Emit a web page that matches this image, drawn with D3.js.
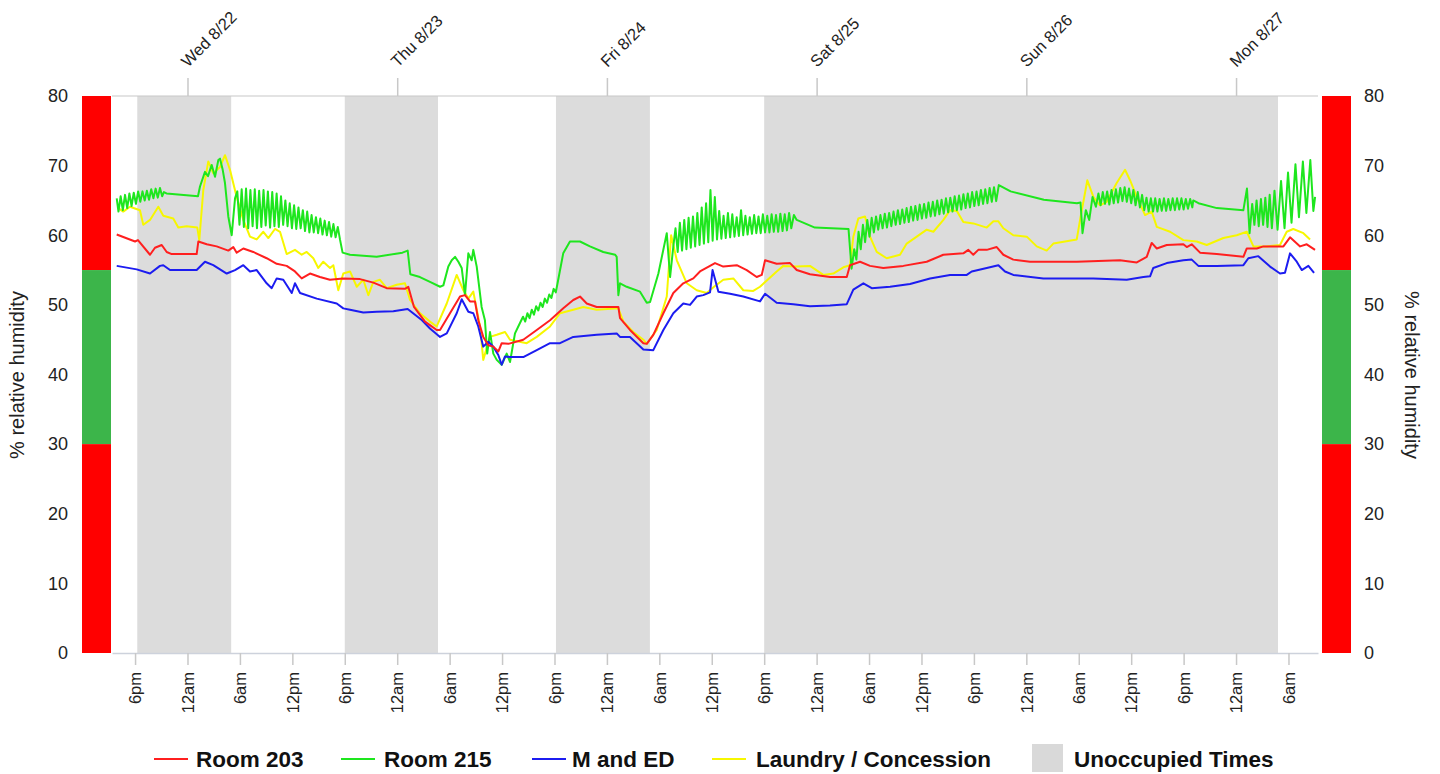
<!DOCTYPE html>
<html>
<head>
<meta charset="utf-8">
<script src="https://cdn.jsdelivr.net/npm/d3@7"></script>
<style>
  html, body { margin: 0; padding: 0; background: #fff; }
  svg { display: block; font-family: "Liberation Sans", Arial, sans-serif; }
</style>
</head>
<body>
<svg id="chart" width="1440" height="774"></svg>
<script>
// ---- DATA (hours relative to Wed 8/22/2018 00:00, % relative humidity) ----
const seriesNames = ["Room 203", "Room 215", "M and ED", "Laundry / Concession"];
const seriesColors = ["#ff1f1f", "#1ee61e", "#1c1cf0", "#f7f700"];

const room203 = [[-8.1,60.1],[-6.0,59.1],[-5.67,59.3],[-4.29,57.2],[-3.72,58.2],[-2.95,58.6],[-2.38,57.6],[-1.81,57.3],[1.05,57.3],[1.24,59.1],[2.2,58.7],[3.34,58.4],[4.67,57.8],[5.24,58.3],[5.63,57.5],[6.39,58.1],[7.53,57.6],[9.06,56.7],[10.21,55.9],[11.35,55.6],[12.3,54.8],[13.07,53.8],[14.02,54.5],[15.16,54.0],[16.3,53.6],[17.8,53.8],[19.74,53.7],[21.27,53.2],[22.8,52.4],[24.89,52.3],[25.27,52.6],[25.92,49.7],[27.18,47.6],[28.52,46.4],[28.9,46.4],[30.04,48.8],[31.19,51.2],[31.76,51.4],[32.33,50.5],[32.9,50.5],[33.28,47.8],[33.85,45.4],[34.43,44.2],[35.0,44.0],[35.57,43.3],[35.96,44.5],[36.72,44.4],[38.43,45.0],[39.97,46.4],[41.49,47.8],[43.01,49.5],[44.15,50.7],[44.92,51.2],[45.69,50.2],[46.83,49.7],[49.31,49.7],[49.5,48.1],[50.64,46.4],[52.17,44.5],[52.56,44.4],[53.31,45.7],[54.46,48.8],[55.6,51.7],[56.74,53.1],[57.89,53.8],[58.65,54.8],[59.8,55.6],[60.37,56.0],[61.32,55.5],[62.86,55.7],[64.0,55.0],[65.14,54.0],[65.72,54.3],[66.1,56.4],[67.43,55.9],[68.96,56.0],[69.72,55.0],[71.24,54.4],[73.53,54.0],[75.45,54.0],[75.82,55.7],[76.97,56.2],[78.11,55.6],[79.63,55.3],[81.92,55.6],[84.6,56.2],[86.5,57.2],[88.79,57.4],[89.36,57.9],[89.93,57.2],[90.5,57.9],[91.47,57.9],[92.61,58.3],[93.37,57.2],[94.51,56.5],[96.42,56.2],[101.77,56.2],[106.72,56.4],[108.64,56.1],[109.78,56.9],[110.35,58.9],[110.93,58.1],[112.07,58.6],[113.97,58.7],[114.36,58.3],[114.93,58.7],[115.88,57.5],[117.79,57.3],[120.84,56.9],[121.23,58.1],[122.37,58.1],[123.13,58.4],[125.42,58.4],[126.18,59.7],[127.33,58.4],[128.09,58.7],[129.04,57.9]];

const room215 = [[-8.1,65.3],[-7.9,63.4],[-7.65,65.6],[-7.4,63.6],[-7.15,65.8],[-6.9,63.9],[-6.65,66.0],[-6.4,64.2],[-6.15,66.1],[-5.9,64.5],[-5.65,66.3],[-5.4,64.8],[-5.15,66.3],[-4.9,65.0],[-4.65,66.4],[-4.4,65.1],[-4.15,66.6],[-3.9,65.3],[-3.65,66.7],[-3.4,65.4],[-3.15,66.8],[-2.9,65.6],[-2.7,66.2],[-2.4,66.0],[1.2,65.6],[1.43,67.0],[2.0,69.1],[2.35,68.5],[2.77,70.1],[3.15,68.4],[3.53,70.8],[3.72,71.0],[4.03,69.4],[4.29,67.5],[4.67,62.7],[5.06,60.0],[5.44,65.3],[5.7,66.3],[5.95,61.5],[6.2,66.6],[6.45,61.2],[6.7,66.7],[6.95,61.0],[7.2,66.5],[7.45,61.3],[7.7,66.6],[7.95,61.0],[8.2,66.4],[8.45,61.2],[8.7,66.5],[8.95,61.4],[9.2,66.3],[9.45,61.1],[9.7,66.2],[9.95,61.3],[10.2,66.0],[10.45,61.2],[10.7,65.6],[10.95,61.5],[11.2,65.0],[11.45,61.3],[11.7,64.6],[11.95,61.0],[12.2,64.3],[12.45,60.9],[12.7,64.0],[12.95,61.0],[13.2,63.6],[13.45,60.6],[13.7,63.4],[13.95,60.4],[14.2,62.9],[14.45,60.4],[14.7,62.6],[14.95,60.3],[15.2,62.4],[15.45,60.1],[15.7,62.1],[15.95,60.0],[16.2,61.9],[16.45,59.8],[16.7,61.6],[16.95,59.7],[17.2,61.2],[17.45,59.4],[17.75,57.5],[18.6,57.2],[21.65,56.9],[24.6,57.5],[25.2,57.8],[25.5,54.4],[26.6,54.0],[27.75,53.3],[28.9,52.6],[29.28,52.8],[29.85,55.5],[30.24,56.4],[30.62,56.9],[31.0,56.2],[31.38,55.3],[31.76,51.4],[32.14,57.4],[32.52,56.4],[32.71,57.9],[33.1,55.5],[33.66,49.7],[34.04,47.8],[34.3,43.0],[34.62,46.1],[35.0,43.0],[35.39,42.1],[35.96,41.4],[36.53,43.0],[36.91,41.8],[37.48,45.9],[38.05,47.4],[38.4,48.3],[38.65,47.6],[38.9,48.8],[39.15,48.1],[39.4,49.3],[39.65,48.6],[39.9,49.8],[40.15,49.2],[40.4,50.3],[40.65,49.7],[40.9,50.9],[41.15,50.3],[41.4,51.5],[41.65,51.0],[41.9,52.3],[42.15,51.8],[42.35,53.1],[43.0,57.4],[43.77,59.1],[44.92,59.1],[46.06,58.4],[47.58,57.6],[48.95,57.2],[49.12,56.9],[49.31,51.4],[49.5,53.1],[50.26,52.6],[51.79,51.9],[52.56,50.3],[52.94,50.4],[53.89,54.5],[54.85,60.3],[55.23,54.0],[55.6,58.4],[55.85,61.0],[56.1,57.6],[56.35,61.8],[56.6,57.8],[56.85,62.2],[57.1,58.0],[57.35,62.5],[57.6,58.2],[57.85,62.7],[58.1,58.4],[58.35,63.2],[58.6,58.6],[58.85,64.0],[59.1,58.8],[59.35,64.6],[59.6,59.0],[59.85,66.5],[60.1,59.2],[60.35,65.5],[60.6,59.4],[60.85,63.5],[61.1,59.5],[61.35,62.8],[61.6,59.6],[61.85,63.2],[62.1,59.7],[62.35,63.0],[62.6,59.8],[62.85,62.6],[63.1,59.9],[63.35,63.6],[63.6,60.0],[63.85,62.8],[64.1,60.1],[64.35,62.6],[64.6,60.2],[64.85,62.9],[65.1,60.3],[65.35,62.7],[65.6,60.3],[65.85,63.0],[66.1,60.4],[66.35,62.8],[66.6,60.4],[66.85,63.0],[67.1,60.5],[67.35,62.9],[67.6,60.5],[67.85,63.1],[68.1,60.6],[68.35,63.0],[68.6,60.7],[68.85,63.2],[69.1,61.0],[69.4,62.9],[69.72,62.2],[71.8,61.1],[75.65,60.9],[76.0,55.2],[76.3,58.0],[76.55,56.5],[76.8,60.5],[77.05,58.0],[77.3,61.5],[77.55,59.0],[77.8,62.2],[78.05,59.8],[78.3,62.5],[78.55,60.4],[78.8,62.7],[79.05,60.8],[79.3,62.9],[79.55,61.0],[79.8,63.1],[80.05,61.1],[80.3,63.2],[80.55,61.3],[80.8,63.4],[81.05,61.5],[81.3,63.6],[81.55,61.6],[81.8,63.7],[82.05,61.8],[82.3,63.9],[82.55,61.9],[82.8,64.1],[83.05,62.1],[83.3,64.2],[83.55,62.2],[83.8,64.4],[84.05,62.4],[84.3,64.5],[84.55,62.5],[84.8,64.7],[85.05,62.7],[85.3,64.8],[85.55,62.8],[85.8,65.0],[86.05,63.0],[86.3,65.1],[86.55,63.1],[86.8,65.3],[87.05,63.3],[87.3,65.4],[87.55,63.4],[87.8,65.6],[88.05,63.6],[88.3,65.7],[88.55,63.7],[88.8,65.9],[89.05,63.9],[89.3,66.0],[89.55,64.0],[89.8,66.2],[90.05,64.2],[90.3,66.3],[90.55,64.3],[90.8,66.5],[91.05,64.5],[91.3,66.6],[91.55,64.6],[91.8,66.8],[92.05,64.8],[92.3,66.9],[92.55,64.9],[92.85,67.2],[94.2,66.3],[98.0,65.1],[101.8,64.6],[102.2,64.7],[102.43,60.3],[102.81,63.6],[103.2,62.2],[103.58,65.5],[103.96,64.1],[104.25,66.0],[104.5,64.3],[104.75,66.2],[105.0,64.5],[105.25,66.3],[105.5,64.4],[105.75,66.5],[106.0,64.6],[106.25,66.6],[106.5,64.7],[106.75,66.8],[107.0,64.9],[107.25,66.9],[107.5,64.8],[107.75,66.7],[108.0,64.6],[108.25,66.5],[108.5,64.3],[108.75,66.2],[109.0,64.0],[109.25,65.8],[109.5,63.6],[109.75,65.4],[110.0,63.4],[110.25,65.3],[110.5,63.4],[110.75,65.3],[111.0,63.4],[111.25,65.2],[111.5,63.5],[111.75,65.3],[112.0,63.5],[112.25,65.2],[112.5,63.6],[112.75,65.3],[113.0,63.6],[113.25,65.3],[113.5,63.7],[113.75,65.3],[114.0,63.7],[114.25,65.2],[114.5,63.8],[114.75,65.2],[115.0,64.0],[115.1,65.0],[115.7,64.6],[117.8,63.9],[120.84,63.6],[121.25,66.7],[121.55,60.3],[121.85,64.5],[122.1,61.5],[122.35,65.0],[122.6,61.3],[122.85,65.2],[123.1,61.5],[123.35,65.4],[123.6,61.2],[123.85,65.8],[124.1,61.0],[124.4,66.4],[124.75,60.8],[125.15,67.8],[125.55,61.0],[125.95,69.0],[126.35,61.8],[126.8,70.2],[127.2,62.6],[127.65,70.6],[128.05,63.2],[128.5,70.8],[128.85,63.5],[129.05,65.5]];

const mAndED = [[-8.1,55.6],[-5.81,55.1],[-4.29,54.5],[-3.15,55.6],[-2.77,55.7],[-2.0,55.0],[1.05,55.0],[2.0,56.2],[2.95,55.7],[4.49,54.5],[5.44,55.0],[6.39,55.7],[7.15,54.8],[7.92,55.0],[9.06,53.1],[9.64,52.4],[10.21,53.8],[10.96,53.6],[11.93,51.7],[12.3,53.1],[12.88,51.7],[14.79,50.9],[17.08,50.2],[17.83,49.5],[18.6,49.3],[20.12,48.9],[21.65,49.0],[23.55,49.1],[25.2,49.4],[26.84,47.8],[27.75,46.6],[28.9,45.4],[29.67,45.9],[30.81,48.8],[31.38,50.8],[32.14,49.0],[32.71,48.8],[33.28,46.9],[33.85,44.0],[34.43,44.7],[35.0,44.0],[35.57,42.8],[35.96,41.4],[36.34,42.6],[36.91,42.5],[38.43,42.5],[39.97,43.5],[41.49,44.5],[42.63,44.5],[44.15,45.4],[46.83,45.7],[49.12,45.9],[49.5,45.4],[50.64,45.4],[52.17,43.6],[53.31,43.5],[54.46,46.4],[55.6,48.8],[56.74,50.2],[57.51,50.0],[58.28,51.2],[59.03,51.4],[59.8,51.8],[60.09,55.0],[60.76,51.9],[62.09,51.6],[63.61,51.2],[65.52,50.5],[66.1,51.6],[67.43,50.3],[69.33,50.1],[71.24,49.8],[73.53,49.9],[75.45,50.1],[76.2,52.2],[77.35,53.1],[78.31,52.4],[80.4,52.6],[82.69,53.0],[84.98,53.8],[87.27,54.3],[89.18,54.3],[89.75,54.8],[91.47,55.3],[92.8,55.7],[93.56,54.8],[94.51,54.3],[97.95,53.8],[103.67,53.8],[107.49,53.6],[109.39,54.0],[110.16,54.1],[110.53,55.3],[112.07,56.0],[113.97,56.4],[114.93,56.5],[115.69,55.6],[117.79,55.6],[120.84,55.7],[121.41,56.7],[122.55,57.0],[123.89,55.5],[125.03,54.5],[125.6,54.6],[126.18,57.4],[126.95,56.2],[127.52,55.0],[128.28,55.6],[128.93,54.6]];

const laundry = [[-7.92,63.9],[-7.35,63.4],[-6.58,64.1],[-5.44,63.6],[-5.06,61.5],[-4.29,62.2],[-3.34,64.1],[-2.77,62.8],[-1.63,62.4],[-1.05,61.1],[-0.09,61.3],[1.12,61.1],[1.35,59.3],[1.81,66.5],[2.38,70.6],[2.95,68.9],[3.72,69.8],[4.29,71.5],[4.86,69.4],[5.63,65.5],[6.39,62.2],[7.15,59.8],[7.92,59.4],[8.68,60.5],[9.25,59.6],[10.01,60.9],[10.59,60.5],[11.35,57.3],[12.3,57.9],[13.07,57.2],[13.64,57.6],[14.4,56.7],[14.97,55.3],[15.54,56.2],[16.31,55.3],[16.69,55.7],[17.26,52.1],[17.83,54.5],[18.6,54.8],[19.37,52.6],[20.12,53.6],[20.7,51.4],[21.27,53.3],[22.03,53.6],[22.8,52.4],[23.94,52.9],[24.89,53.1],[25.47,50.7],[26.61,48.8],[27.75,47.6],[28.52,46.9],[29.67,50.2],[30.81,54.3],[31.57,52.1],[32.14,50.9],[32.71,51.9],[33.48,46.9],[33.85,42.1],[34.62,45.4],[35.39,45.7],[36.34,46.1],[36.91,45.0],[38.82,44.5],[39.97,45.4],[41.49,46.9],[42.63,48.8],[44.15,49.3],[45.3,49.7],[46.83,49.3],[49.31,49.5],[49.88,47.6],[51.02,46.1],[52.17,45.0],[52.56,44.4],[53.7,46.4],[54.85,51.2],[55.35,60.0],[56.0,56.4],[57.14,53.1],[58.28,52.1],[59.42,51.7],[60.26,52.6],[61.32,53.6],[62.47,53.8],[63.61,52.1],[64.75,52.0],[65.52,52.6],[67.43,54.8],[68.19,55.6],[69.72,55.5],[71.24,55.6],[72.77,54.3],[73.91,54.5],[75.06,55.4],[75.82,55.7],[76.2,59.8],[76.77,62.4],[77.54,62.7],[78.11,59.8],[78.88,57.6],[80.02,56.7],[81.54,57.2],[82.31,58.8],[83.46,59.8],[84.6,60.8],[85.36,60.5],[86.51,62.2],[87.27,63.6],[88.04,63.5],[88.79,61.9],[89.93,61.7],[91.47,61.1],[92.23,62.0],[92.8,62.0],[93.37,61.0],[94.51,60.0],[96.05,59.8],[97.19,58.4],[98.33,57.8],[99.09,58.8],[101.77,59.4],[102.15,62.2],[102.98,67.9],[103.67,65.5],[104.43,64.3],[105.2,64.8],[106.34,67.5],[107.3,69.4],[107.87,67.9],[108.64,65.5],[109.59,62.9],[110.35,63.4],[110.93,61.2],[112.45,60.5],[113.97,59.3],[115.5,59.1],[116.65,58.6],[118.55,59.6],[120.08,60.0],[121.23,60.5],[121.99,58.4],[123.51,58.4],[125.03,58.6],[125.8,60.5],[126.55,60.9],[127.71,60.3],[128.47,59.4]];

// unoccupied periods [start hour, end hour]
const unoccupied = [[-5.75, 5.0], [18.0, 28.67], [42.17, 52.92], [66.0, 124.8]];
// comfort zones for the side bars
const zones = [[55, 80, "#ff0000"], [30, 55, "#3cb54a"], [0, 30, "#ff0000"]];
const yTicks = [0, 10, 20, 30, 40, 50, 60, 70, 80];
const timeRangeHours = [-8.64, 129.38];

// ---- CHART ----
const base = new Date(2018, 7, 22, 0, 0, 0).getTime();
const toDate = h => new Date(base + h * 3600e3);

const svg = d3.select("#chart");
const plotL = 112, plotR = 1318, plotT = 96, plotB = 653;

const x = d3.scaleTime().domain(timeRangeHours.map(toDate)).range([plotL, plotR]);
const y = d3.scaleLinear().domain([0, 80]).range([plotB, plotT]);

// unoccupied bands
svg.append("g").selectAll("rect").data(unoccupied).join("rect")
  .attr("x", d => x(toDate(d[0])))
  .attr("width", d => x(toDate(d[1])) - x(toDate(d[0])))
  .attr("y", plotT).attr("height", plotB - plotT)
  .attr("fill", "#dcdcdc");

// side bars
[[82, 29], [1322, 29]].forEach(([bx, bw]) => {
  svg.append("g").selectAll("rect").data(zones).join("rect")
    .attr("x", bx).attr("width", bw)
    .attr("y", d => y(d[1])).attr("height", d => y(d[0]) - y(d[1]))
    .attr("fill", d => d[2]);
});

// top frame line
svg.append("line").attr("x1", plotL).attr("x2", plotR).attr("y1", plotT).attr("y2", plotT)
  .attr("stroke", "#c8c8c8").attr("stroke-width", 1.2);

// bottom axis (6-hour ticks)
const hourFmt = d => {
  const hr = d.getHours();
  return hr === 0 ? "12am" : hr === 12 ? "12pm" : (hr < 12 ? hr + "am" : (hr - 12) + "pm");
};
const bottomAxis = d3.axisBottom(x)
  .tickValues(d3.timeHour.every(6).range(toDate(-6), toDate(127)))
  .tickFormat(hourFmt).tickSize(12).tickSizeOuter(0);
const gb = svg.append("g").attr("transform", `translate(0,${plotB})`).call(bottomAxis);
gb.select(".domain").attr("stroke", "#cdd2dc").attr("stroke-width", 1.5);
gb.selectAll(".tick line").attr("stroke", "#c8c8c8").attr("stroke-width", 1.5);
gb.selectAll(".tick text")
  .attr("font-family", "Liberation Sans, Arial, sans-serif").attr("font-size", 16.5)
  .attr("fill", "#222")
  .attr("text-anchor", "end")
  .attr("transform", "rotate(-90)")
  .attr("x", -19).attr("y", 0).attr("dy", "0.35em");

// top axis (days)
const dayFmt = d3.timeFormat("%a %-m/%-d");
const topAxis = d3.axisTop(x)
  .tickValues(d3.timeDay.range(toDate(0), toDate(121)))
  .tickFormat(dayFmt).tickSize(18).tickSizeOuter(0);
const gt = svg.append("g").attr("transform", `translate(0,${plotT})`).call(topAxis);
gt.select(".domain").remove();
gt.selectAll(".tick line").attr("stroke", "#c8c8c8").attr("stroke-width", 1.5);
gt.selectAll(".tick text")
  .attr("font-family", "Liberation Sans, Arial, sans-serif").attr("font-size", 16.5)
  .attr("fill", "#222")
  .attr("text-anchor", "start")
  .attr("transform", "translate(0,-28) rotate(-45)")
  .attr("x", 0).attr("y", 0).attr("dy", 0);

// y axes labels
const gl = svg.append("g").attr("transform", "translate(70,0)")
  .call(d3.axisLeft(y).tickValues(yTicks).tickSize(0));
gl.select(".domain").remove();
gl.selectAll("text").attr("font-family", "Liberation Sans, Arial, sans-serif")
  .attr("font-size", 18).attr("fill", "#222").attr("x", -2);
const gr = svg.append("g").attr("transform", "translate(1362,0)")
  .call(d3.axisRight(y).tickValues(yTicks).tickSize(0));
gr.select(".domain").remove();
gr.selectAll("text").attr("font-family", "Liberation Sans, Arial, sans-serif")
  .attr("font-size", 18).attr("fill", "#222").attr("x", 2);

svg.append("text").attr("transform", "translate(24,375) rotate(-90)")
  .attr("text-anchor", "middle").attr("font-size", 20).attr("fill", "#222")
  .text("% relative humidity");
svg.append("text").attr("transform", "translate(1405,375) rotate(90)")
  .attr("text-anchor", "middle").attr("font-size", 20).attr("fill", "#222")
  .text("% relative humidity");

// lines
const line = d3.line().x(d => x(toDate(d[0]))).y(d => y(d[1]));
const allSeries = [room203, room215, mAndED, laundry];
const drawOrder = [3, 1, 2, 0];
drawOrder.forEach(i => {
  svg.append("path").datum(allSeries[i])
    .attr("fill", "none").attr("stroke", seriesColors[i])
    .attr("stroke-width", 2).attr("stroke-linejoin", "round")
    .attr("d", line);
});

// legend
const legendItems = [
  {name: seriesNames[0], color: seriesColors[0], lx: 154, tx: 196},
  {name: seriesNames[1], color: seriesColors[1], lx: 341, tx: 384},
  {name: seriesNames[2], color: seriesColors[2], lx: 532, tx: 572},
  {name: seriesNames[3], color: seriesColors[3], lx: 712, tx: 756}
];
const lg = svg.append("g");
legendItems.forEach(it => {
  lg.append("line").attr("x1", it.lx).attr("x2", it.lx + 34)
    .attr("y1", 759).attr("y2", 759).attr("stroke", it.color).attr("stroke-width", 2);
  lg.append("text").attr("x", it.tx).attr("y", 767)
    .attr("font-size", 22.5).attr("font-weight", "bold").attr("fill", "#111")
    .text(it.name);
});
lg.append("rect").attr("x", 1032).attr("y", 744).attr("width", 31).attr("height", 28)
  .attr("fill", "#d9d9d9");
lg.append("text").attr("x", 1074).attr("y", 767)
  .attr("font-size", 22.5).attr("font-weight", "bold").attr("fill", "#111")
  .text("Unoccupied Times");
</script>
</body>
</html>
